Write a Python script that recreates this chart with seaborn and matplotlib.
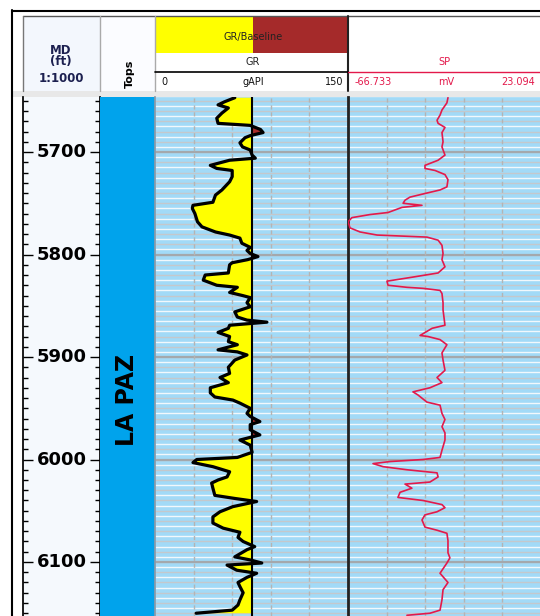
import numpy as np
import matplotlib
matplotlib.use("Agg")
import matplotlib.pyplot as plt
import seaborn as sns
from matplotlib.patches import Rectangle

# ---------------- data ----------------
gr_depth = [5647, 5651, 5654, 5657, 5662, 5667, 5672, 5674, 5678, 5681,
            5684, 5686, 5691, 5695, 5698, 5703, 5706, 5708, 5713, 5716,
            5718, 5724, 5729, 5737, 5742, 5749, 5752, 5755, 5760, 5768,
            5773, 5778, 5781, 5784, 5789, 5793, 5796, 5799, 5802, 5805,
            5808, 5810, 5818, 5820, 5825, 5830, 5832, 5837, 5840, 5842,
            5847, 5851, 5856, 5861, 5864, 5866, 5869, 5872, 5876, 5880,
            5885, 5888, 5893, 5895, 5898, 5903, 5910, 5916, 5920, 5925,
            5930, 5935, 5939, 5942, 5945, 5950, 5955, 5958, 5963, 5966,
            5971, 5976, 5981, 5986, 5993, 5998, 6000, 6003, 6007, 6012,
            6017, 6020, 6023, 6028, 6035, 6038, 6041, 6046, 6051, 6056,
            6062, 6067, 6071, 6076, 6080, 6085, 6088, 6095, 6098, 6101,
            6103, 6108, 6111, 6115, 6120, 6124, 6130, 6137, 6142, 6147,
            6150]
gr_api = [62, 54, 49, 57, 52, 48, 49, 74, 82, 84,
          74, 70, 66, 68, 74, 75.5, 78, 58, 43, 48,
          60, 60, 58, 52, 47, 45, 29.5, 29, 31, 33,
          36.5, 47, 58, 66, 67.5, 74, 71.5, 74, 80, 72,
          60, 58, 57, 39, 37.5, 48, 64, 58, 68, 74,
          71.5, 74, 62, 64, 71.5, 87, 58, 57, 49, 58,
          57, 64, 49, 64, 71.5, 62, 57, 58, 50.5, 57,
          43, 43, 46.5, 60.5, 66, 74, 71.5, 74, 81.5, 74,
          74, 81.5, 66, 74, 75.5, 64, 32.5, 29.5, 45, 58,
          56, 49, 44, 45, 46.5, 62, 79, 60.5, 50.5, 45,
          45, 53, 66, 64.5, 68.5, 77.5, 71.5, 62, 74, 83,
          56, 63.5, 79, 71.5, 64.5, 66, 68.5, 66, 64.5, 60,
          32]

sp_depth = [5647, 5652, 5659, 5664, 5669, 5672, 5676, 5681, 5690, 5695,
            5703, 5708, 5713, 5716, 5718, 5722, 5727, 5734, 5737, 5740,
            5744, 5747, 5750, 5752, 5754, 5759, 5761, 5764, 5768, 5774,
            5778, 5781, 5783, 5786, 5791, 5799, 5805, 5812, 5818, 5822,
            5826, 5830, 5832, 5833, 5835, 5838, 5847, 5854, 5869, 5872,
            5879, 5880, 5883, 5888, 5896, 5903, 5913, 5920, 5925, 5930,
            5934, 5937, 5944, 5947, 5955, 5961, 5968, 5974, 5981, 5991,
            5998, 6000, 6002, 6004, 6007, 6010, 6013, 6017, 6022, 6024,
            6028, 6032, 6037, 6040, 6044, 6047, 6051, 6054, 6059, 6066,
            6069, 6072, 6079, 6091, 6096, 6101, 6111, 6120, 6127, 6137,
            6147, 6150, 6152]
sp_mv = [-20.2, -20.7, -23.0, -23.9, -25.3, -24.8, -21.6, -23.0, -22.5, -23.0,
         -21.6, -24.8, -30.9, -30.9, -26.2, -21.6, -20.2, -20.7, -23.9, -30.0,
         -37.9, -40.2, -41.1, -32.3, -41.6, -48.1, -56.5, -64.9, -66.7, -65.8,
         -61.1, -53.2, -30.0, -24.8, -23.0, -22.5, -23.0, -21.6, -24.8, -36.5,
         -48.6, -48.1, -39.3, -31.8, -23.9, -23.0, -22.5, -22.5, -21.6, -27.6,
         -33.2, -29.5, -23.9, -20.7, -23.0, -22.5, -21.6, -25.3, -23.0, -28.6,
         -36.5, -34.2, -30.0, -23.9, -23.0, -21.6, -23.0, -21.6, -21.6, -23.0,
         -23.9, -31.8, -47.2, -55.1, -50.4, -39.3, -25.3, -24.8, -28.6, -40.2,
         -37.0, -42.5, -43.5, -31.8, -23.0, -21.6, -25.3, -30.9, -32.3, -30.9,
         -25.3, -20.7, -20.2, -20.2, -19.3, -20.7, -23.9, -20.2, -22.5, -23.0,
         -23.9, -28.6, -39.3]

gr_baseline = 75
gr_range = [0, 150]
sp_range = [-66.733, 23.094]
depth_range = [5646.3, 6152.7]
depth_labels = [5700, 5800, 5900, 6000, 6100]
top_name = "LA PAZ"

# ---------------- figure ----------------
W, H = 540, 616
sns.set_theme(style="white")
plt.rcParams['font.family'] = ['DejaVu Sans']
fig = plt.figure(figsize=(W / 100, H / 100), dpi=100)
fig.patch.set_facecolor('white')


def box(x0, y0, x1, y1):
    return [x0 / W, 1 - y1 / H, (x1 - x0) / W, (y1 - y0) / H]


# background / header canvas in pixel units
bg = fig.add_axes([0, 0, 1, 1])
bg.set_xlim(0, W)
bg.set_ylim(H, 0)
bg.axis('off')

bg.add_patch(Rectangle((23, 17), 77, 74, fc='#f3f7fd', ec='none'))
bg.add_patch(Rectangle((100, 17), 55, 74, fc='#fbfcff', ec='none'))
bg.add_patch(Rectangle((155, 17), 98, 36, fc='#ffff00', ec='none'))
bg.add_patch(Rectangle((253, 17), 95, 36, fc='#a52a2a', ec='none'))
bg.add_patch(Rectangle((11.5, 91), W, 6, fc='#e8e8e8', ec='none'))

bg.plot([11.5, 11.5], [10, H], color='black', lw=1.5)
bg.plot([11.5, W], [10.5, 10.5], color='black', lw=1.5)
bg.plot([23, W], [16, 16], color='#555555', lw=1)
bg.plot([23, 23], [16, 91], color='#777777', lw=1)
bg.plot([100, 100], [16, 91], color='#aaaaaa', lw=1)
bg.plot([155, 155], [16, 91], color='#aaaaaa', lw=1)
bg.plot([348, 348], [16, 91], color='#222222', lw=1.5)
bg.plot([155, 348], [72, 72], color='black', lw=1.2)
bg.plot([348, W], [72, 72], color='#e3194b', lw=1)

navy = '#1c2050'
bg.text(61, 50, 'MD', ha='center', va='center', fontsize=8.5, fontweight='bold', color=navy)
bg.text(61, 62, '(ft)', ha='center', va='center', fontsize=8.5, fontweight='bold', color=navy)
bg.text(61, 78, '1:1000', ha='center', va='center', fontsize=8.5, fontweight='bold', color=navy)
bg.text(130, 74, 'Tops', ha='center', va='center', rotation=90, fontsize=8,
        fontweight='bold', color='black')
bg.text(253, 37, 'GR/Baseline', ha='center', va='center', fontsize=7, color='#222222')
bg.text(253, 62, 'GR', ha='center', va='center', fontsize=7, color='#222222')
bg.text(161, 82, '0', ha='left', va='center', fontsize=7, color='#111111')
bg.text(253, 82, 'gAPI', ha='center', va='center', fontsize=7, color='#111111')
bg.text(343, 82, '150', ha='right', va='center', fontsize=7, color='#111111')
red = '#e3194b'
bg.text(444, 62, 'SP', ha='center', va='center', fontsize=7, color=red)
bg.text(355, 82, '-66.733', ha='left', va='center', fontsize=7, color=red)
bg.text(446, 82, 'mV', ha='center', va='center', fontsize=7, color=red)
bg.text(535, 82, '23.094', ha='right', va='center', fontsize=7, color=red)

# ---------------- tracks ----------------
ax_d = fig.add_axes(box(23, 97, 100, 616))
ax_t = fig.add_axes(box(100, 97, 155, 616))
ax_gr = fig.add_axes(box(155, 97, 348, 616))
ax_sp = fig.add_axes(box(348, 97, 541, 616))

for ax in (ax_d, ax_t, ax_gr, ax_sp):
    ax.set_ylim(depth_range[1], depth_range[0])
    for s in ax.spines.values():
        s.set_visible(False)

# depth track
ax_d.set_facecolor('#f5f9fd')
ax_d.set_xlim(0, 1)
ax_d.spines['left'].set_visible(True)
ax_d.spines['right'].set_visible(True)
ax_d.spines['left'].set_color('black')
ax_d.spines['right'].set_color('black')
ax_d.set_xticks([])
ax_d.set_yticks(depth_labels)
ax_d.set_yticks(np.arange(5650, 6155, 10), minor=True)
ax_d.tick_params(axis='y', which='major', direction='in', length=7, width=1,
                 left=True, right=True, labelleft=False, color='black')
ax_d.tick_params(axis='y', which='minor', direction='in', length=3.5, width=1,
                 left=True, right=True, color='black')
for d in depth_labels:
    ax_d.text(0.5, d, str(d), transform=ax_d.get_yaxis_transform(),
              ha='center', va='center', fontsize=13, fontweight='bold', color='black')

# tops track
ax_t.set_facecolor('#00a3ec')
ax_t.set_xticks([])
ax_t.set_yticks([])
ax_t.text(0.5, 5942, top_name, transform=ax_t.get_yaxis_transform(), rotation=90,
          ha='center', va='center', fontsize=17, fontweight='bold', color='black')


def grid(ax, lo, hi):
    ax.set_facecolor('#a2daf7')
    ax.set_xlim(lo, hi)
    ys = np.arange(5645, 6155, 5)
    cols = ['#c4c8cc' if y % 10 == 0 else '#f2f8fc' for y in ys]
    ax.hlines(ys, lo, hi, colors=cols, lw=1, zorder=0.5)
    ax.hlines(depth_labels, lo, hi, colors='#a4a8ac', lw=1.6, zorder=0.6)
    for x in np.linspace(lo, hi, 6)[1:-1]:
        ax.axvline(x, color='#b4b4b4', lw=1, ls=(0, (3, 2)), zorder=0.7)
    ax.set_xticks([])
    ax.set_yticks([])
    ax.set_xlabel('')
    ax.set_ylabel('')


# GR track
grid(ax_gr, *gr_range)
gr_arr = np.array(gr_api)
dep_arr = np.array(gr_depth)
ax_gr.fill_betweenx(dep_arr, gr_arr, gr_baseline, where=gr_arr <= gr_baseline,
                    interpolate=True, color='#ffff00', lw=0, zorder=1)
ax_gr.fill_betweenx(dep_arr, gr_arr, gr_baseline, where=gr_arr >= gr_baseline,
                    interpolate=True, color='#a52a2a', lw=0, zorder=1)
ax_gr.axvline(gr_baseline, color='black', lw=1.5, zorder=2)
sns.lineplot(x=gr_api, y=gr_depth, orient='y', sort=False, estimator=None,
             color='black', lw=2.3, ax=ax_gr, legend=False, zorder=3)
ax_gr.set_xlim(*gr_range)
ax_gr.set_ylim(depth_range[1], depth_range[0])
ax_gr.set_xlabel('')
ax_gr.set_ylabel('')
ax_gr.spines['left'].set_visible(True)
ax_gr.spines['left'].set_color('#8a9aa8')

# SP track
grid(ax_sp, *sp_range)
sns.lineplot(x=sp_mv, y=sp_depth, orient='y', sort=False, estimator=None,
             color=red, lw=1.2, ax=ax_sp, legend=False, zorder=3)
ax_sp.set_xlim(*sp_range)
ax_sp.set_ylim(depth_range[1], depth_range[0])
ax_sp.set_xlabel('')
ax_sp.set_ylabel('')
ax_sp.spines['left'].set_visible(True)
ax_sp.spines['left'].set_color('#222222')
ax_sp.spines['left'].set_linewidth(2)

fig.savefig('out.png', dpi=100, facecolor='white')
